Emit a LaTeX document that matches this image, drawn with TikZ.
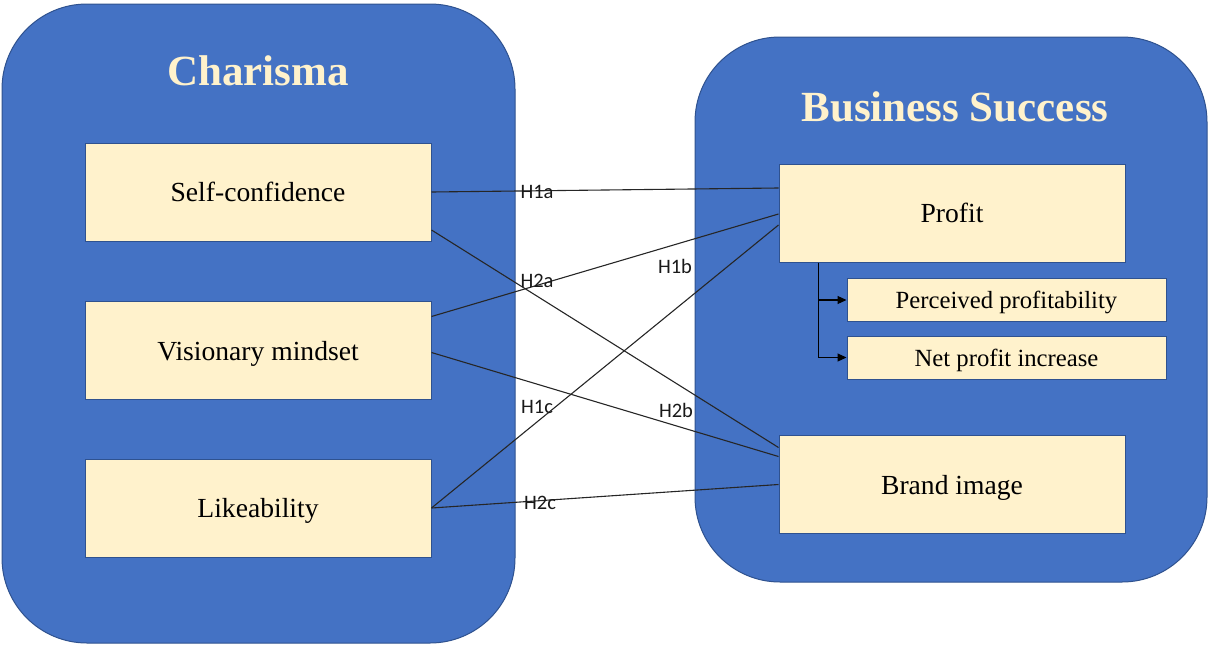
\documentclass[tikz,border=0pt]{standalone}
\usepackage{fontspec}
\setmainfont{Liberation Serif}
\newfontfamily\hfont{Carlito}
\usetikzlibrary{calc,arrows.meta}
\definecolor{contblue}{HTML}{4472C4}
\definecolor{contedge}{HTML}{2F528F}
\definecolor{boxfill}{HTML}{FFF2CC}
\tikzset{
  container/.style={fill=contblue,draw=contedge,line width=1pt,rounded corners=85pt},
  bigbox/.style={fill=boxfill,draw=contedge,line width=1pt,inner sep=0pt,minimum width=346pt,minimum height=98pt,text height=19pt,text depth=0pt,font=\fontsize{27.6}{30}\selectfont},
  smallbox/.style={fill=boxfill,draw=contedge,line width=1pt,inner sep=0pt,minimum width=319pt,minimum height=43pt,text height=17pt,text depth=0pt,font=\fontsize{24.7}{27}\selectfont},
  title/.style={text=boxfill,font=\fontsize{43}{46}\selectfont\bfseries},
  link/.style={draw=black!85,line width=1.1pt},
  hyp/.style={font=\hfont\fontsize{20.5}{22}\selectfont,text=black!90,inner sep=0pt},
  sub/.style={draw=black,line width=1.1pt,-{Triangle[length=9pt,width=8pt]}}
}
\begin{document}
\begin{tikzpicture}[x=1pt,y=-1pt]
\useasboundingbox (0,0) rectangle (1208,645);
% containers
\path[container] (2,4) rectangle (515,643);
\path[container] (695,37) rectangle (1207,582);
\node[title] (tl) at (258,71) {Charisma};
\node[title] (tr) at (955,107) {Business Success};
% boxes
\node[bigbox] (sc) at (258,192) {Self-confidence};
\node[bigbox] (vm) at (258,350.5) {Visionary mindset};
\node[bigbox] (lk) at (258,508) {Likeability};
\node[bigbox] (pr) at (952,213) {Profit};
\node[bigbox] (bi) at (952,484.5) {Brand image};
\node[smallbox] (pp) at (1006.5,300) {Perceived profitability};
\node[smallbox] (np) at (1006.5,357.5) {Net profit increase};
% sub arrows
\coordinate (br) at ($(pr.south west)+(40,0)$);
\draw[sub] (br) |- (pp.west);
\draw[sub] (br) |- (np.west);
% hypothesis links
\draw[link] (sc.east) -- ($(pr.west)+(0,-25)$);
\draw[link] ($(sc.east)+(0,38)$) -- ($(bi.west)+(0,-37)$);
\draw[link] ($(vm.east)+(0,-34)$) -- ($(pr.west)+(0,1)$);
\draw[link] ($(vm.east)+(0,2)$) -- ($(bi.west)+(0,-28)$);
\draw[link] (lk.east) -- ($(pr.west)+(0,12)$);
\draw[link] (lk.east) -- ($(bi.west)+(0,0)$);
% labels
\node[hyp] (h1a) at (537,192) {H1a};
\node[hyp] (h2a) at (537,281) {H2a};
\node[hyp] (h1b) at (675,266) {H1b};
\node[hyp] (h1c) at (537,407) {H1c};
\node[hyp] (h2b) at (676,410) {H2b};
\node[hyp] (h2c) at (540,503) {H2c};
\end{tikzpicture}
\end{document}
